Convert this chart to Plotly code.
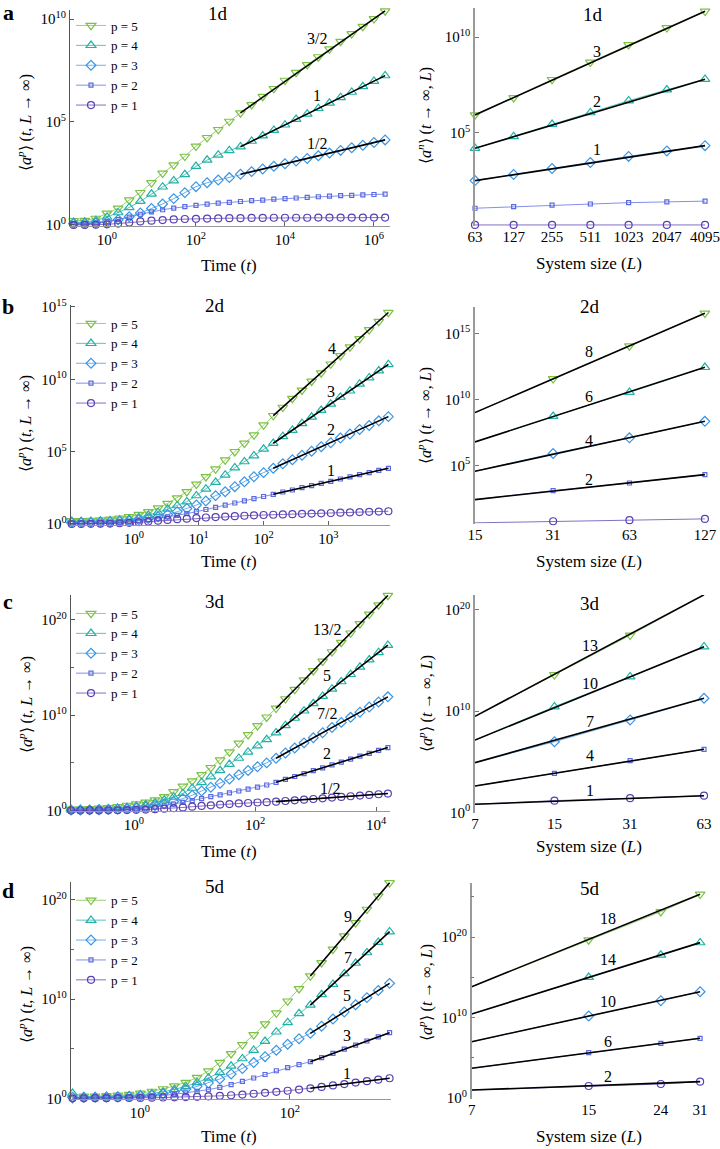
import plotly.graph_objects as go

W, H = 720, 1149
SERIF = "Liberation Serif, Times New Roman, serif"

# ------------------------------------------------------------------ data
# time grids (left panels)
T_1D = [0.178, 0.316, 0.562, 1.0, 1.78, 3.16, 5.62, 10, 17.8, 31.6, 56.2, 100, 178, 316, 562,
        1000, 1780, 3160, 5620, 1.0e4, 1.78e4, 3.16e4, 5.62e4, 1.0e5, 1.78e5, 3.16e5, 5.62e5,
        1.0e6, 1.78e6]
T_2D = [0.110, 0.154, 0.217, 0.305, 0.429, 0.603, 0.847, 1.19, 1.67, 2.36, 3.31, 4.66, 6.55, 9.20,
        12.9, 18.2, 25.6, 36.0, 50.6, 71.1, 100, 141, 198, 278, 391, 550, 773, 1086, 1528, 2148,
        3020, 4246, 5970, 8395]
T_3D = [0.0912, 0.130, 0.185, 0.264, 0.377, 0.537, 0.766, 1.09, 1.56, 2.22, 3.16, 4.51, 6.43, 9.16,
        13.1, 18.6, 26.5, 37.8, 54.0, 76.9, 110, 156, 223, 318, 453, 646, 920, 1312, 1871, 2667,
        3802, 5420, 7727, 11015, 15703]
T_5D = [0.126, 0.178, 0.252, 0.357, 0.506, 0.716, 1.01, 1.44, 2.03, 2.88, 4.07, 5.77, 8.17, 11.6,
        16.4, 23.2, 32.8, 46.5, 65.8, 93.1, 132, 187, 264, 374, 530, 750, 1062, 1503, 2128]

# log10 <a^p>(t, L->inf)
LT1_P5 = [0.21, 0.22, 0.32, 0.57, 0.81, 1.21, 1.57, 2.05, 2.51, 2.91, 3.33, 3.82, 4.24, 4.63, 5.03,
          5.44, 5.84, 6.24, 6.62, 7.02, 7.40, 7.78, 8.16, 8.54, 8.91, 9.28, 9.64, 10.01, 10.39]
LT1_P4 = [0.13, 0.14, 0.22, 0.38, 0.60, 0.85, 1.15, 1.50, 1.85, 2.15, 2.45, 2.85, 3.15, 3.40, 3.62,
          3.80, 4.07, 4.33, 4.60, 4.86, 5.13, 5.39, 5.66, 5.92, 6.19, 6.45, 6.72, 6.98, 7.25]
LT1_P3 = [0.08, 0.08, 0.10, 0.16, 0.25, 0.40, 0.58, 0.80, 1.02, 1.28, 1.57, 1.86, 2.05, 2.18, 2.30,
          2.46, 2.59, 2.72, 2.85, 2.97, 3.10, 3.23, 3.36, 3.49, 3.62, 3.75, 3.87, 4.00, 4.13]
LT1_P2 = [0.03, 0.05, 0.09, 0.16, 0.26, 0.38, 0.52, 0.64, 0.74, 0.82, 0.89, 0.95, 1.01, 1.06, 1.10,
          1.14, 1.18, 1.21, 1.25, 1.28, 1.31, 1.34, 1.37, 1.40, 1.42, 1.44, 1.46, 1.48, 1.50]
LT1_P1 = [0.00, 0.00, 0.01, 0.03, 0.07, 0.12, 0.17, 0.21, 0.24, 0.27, 0.29, 0.30, 0.31, 0.32, 0.33,
          0.33, 0.34, 0.34, 0.35, 0.35, 0.35, 0.35, 0.36, 0.36, 0.36, 0.36, 0.36, 0.36, 0.36]

LT2_P5 = [0.22, 0.23, 0.25, 0.28, 0.33, 0.40, 0.50, 0.65, 0.85, 1.10, 1.42, 1.80, 2.23, 2.74, 3.27,
          3.80, 4.42, 5.00, 5.58, 6.15, 6.84, 7.49, 8.06, 8.68, 9.25, 9.87, 10.44, 11.05, 11.63,
          12.24, 12.81, 13.42, 14.00, 14.62]
LT2_P4 = [0.17, 0.17, 0.18, 0.20, 0.23, 0.28, 0.35, 0.45, 0.60, 0.80, 1.03, 1.27, 1.54, 1.96, 2.42,
          2.88, 3.39, 3.89, 4.31, 4.72, 5.18, 5.58, 6.05, 6.48, 6.95, 7.39, 7.86, 8.30, 8.77, 9.20,
          9.68, 10.11, 10.59, 11.03]
LT2_P3 = [0.12, 0.12, 0.13, 0.14, 0.16, 0.19, 0.23, 0.29, 0.38, 0.50, 0.65, 0.85, 1.07, 1.31, 1.59,
          1.96, 2.23, 2.58, 2.92, 3.27, 3.55, 3.85, 4.16, 4.44, 4.75, 5.03, 5.34, 5.62, 5.94, 6.22,
          6.53, 6.81, 7.13, 7.42]
LT2_P2 = [0.04, 0.04, 0.05, 0.06, 0.08, 0.11, 0.16, 0.22, 0.30, 0.39, 0.49, 0.60, 0.72, 0.85, 1.00,
          1.15, 1.30, 1.45, 1.60, 1.75, 1.90, 2.05, 2.21, 2.35, 2.51, 2.65, 2.81, 2.95, 3.11, 3.25,
          3.41, 3.55, 3.71, 3.85]
LT2_P1 = [0.00, 0.00, 0.01, 0.02, 0.03, 0.05, 0.08, 0.12, 0.17, 0.23, 0.28, 0.33, 0.37, 0.41, 0.45,
          0.48, 0.51, 0.54, 0.57, 0.60, 0.62, 0.64, 0.66, 0.68, 0.70, 0.72, 0.74, 0.76, 0.78, 0.80,
          0.82, 0.84, 0.86, 0.88]

LT3_P5 = [0.13, 0.17, 0.20, 0.23, 0.30, 0.40, 0.54, 0.68, 0.86, 1.10, 1.45, 1.97, 2.55, 3.10, 3.75,
          4.50, 5.30, 6.15, 7.05, 7.95, 8.90, 9.80, 10.73, 11.72, 12.70, 13.69, 14.68, 15.66, 16.65,
          17.64, 18.62, 19.61, 20.60, 21.58, 22.57]
LT3_P4 = [0.08, 0.10, 0.12, 0.15, 0.19, 0.25, 0.33, 0.44, 0.60, 0.82, 1.10, 1.42, 1.80, 2.35, 2.95,
          3.55, 4.20, 4.85, 5.50, 6.15, 6.80, 7.45, 8.17, 8.93, 9.70, 10.46, 11.23, 12.00, 12.76,
          13.53, 14.29, 15.06, 15.82, 16.59, 17.35]
LT3_P3 = [0.05, 0.06, 0.07, 0.09, 0.12, 0.16, 0.21, 0.28, 0.38, 0.52, 0.70, 0.95, 1.25, 1.60, 2.05,
          2.45, 2.87, 3.30, 3.75, 4.20, 4.60, 5.00, 5.49, 6.03, 6.56, 7.10, 7.64, 8.17, 8.71, 9.25,
          9.78, 10.32, 10.86, 11.39, 11.93]
LT3_P2 = [0.03, 0.03, 0.04, 0.05, 0.07, 0.09, 0.13, 0.18, 0.26, 0.36, 0.50, 0.66, 0.85, 1.05, 1.25,
          1.45, 1.65, 1.85, 2.05, 2.25, 2.45, 2.68, 2.96, 3.26, 3.57, 3.87, 4.18, 4.48, 4.79, 5.09,
          5.40, 5.70, 6.00, 6.31, 6.61]
LT3_P1 = [0.00, 0.00, 0.01, 0.01, 0.02, 0.03, 0.05, 0.07, 0.10, 0.14, 0.19, 0.25, 0.32, 0.40, 0.48,
          0.55, 0.62, 0.68, 0.74, 0.79, 0.84, 0.88, 0.93, 1.00, 1.07, 1.14, 1.21, 1.28, 1.36, 1.43,
          1.50, 1.57, 1.64, 1.71, 1.78]

LT5_P5 = [-0.05, 0.20, 0.22, 0.25, 0.30, 0.38, 0.50, 0.70, 0.95, 1.25, 1.60, 2.10, 2.75, 3.60, 4.50,
          5.40, 6.40, 7.50, 8.60, 9.80, 11.05, 12.33, 13.67, 15.02, 16.36, 17.70, 19.05, 20.39, 21.73]
LT5_P4 = [0.50, 0.15, 0.17, 0.19, 0.22, 0.27, 0.35, 0.47, 0.65, 0.90, 1.20, 1.60, 2.05, 2.60, 3.25,
          4.00, 4.85, 5.75, 6.70, 7.65, 8.55, 9.40, 10.46, 11.51, 12.57, 13.63, 14.69, 15.74, 16.80]
LT5_P3 = [0.10, 0.10, 0.11, 0.13, 0.15, 0.19, 0.25, 0.33, 0.45, 0.65, 0.90, 1.20, 1.55, 1.95, 2.45,
          3.00, 3.60, 4.20, 4.85, 5.45, 6.00, 6.55, 7.27, 7.99, 8.71, 9.43, 10.15, 10.87, 11.59]
LT5_P2 = [0.03, 0.04, 0.05, 0.06, 0.08, 0.10, 0.14, 0.20, 0.28, 0.40, 0.55, 0.70, 0.88, 1.10, 1.38,
          1.70, 2.05, 2.40, 2.78, 3.10, 3.40, 3.69, 4.11, 4.53, 4.95, 5.37, 5.78, 6.20, 6.62]
LT5_P1 = [0.00, 0.00, 0.01, 0.01, 0.02, 0.03, 0.04, 0.06, 0.08, 0.10, 0.12, 0.15, 0.20, 0.25, 0.31,
          0.38, 0.46, 0.55, 0.65, 0.76, 0.88, 1.01, 1.15, 1.30, 1.44, 1.59, 1.73, 1.88, 2.02]

# system sizes (right panels) and log10 <a^p>(t->inf, L)
L_1D = [63, 127, 255, 511, 1023, 2047, 4095]
L_2D = [15, 31, 63, 127]
L_3D = [7, 15, 31, 63]
L_5D = [7, 15, 24, 31]
LL1_P5 = [5.94, 6.84, 7.78, 8.68, 9.60, 10.48, 11.34]
LL1_P4 = [4.20, 4.82, 5.45, 6.06, 6.68, 7.25, 7.80]
LL1_P3 = [2.52, 2.84, 3.15, 3.46, 3.78, 4.06, 4.34]
LL1_P2 = [1.08, 1.16, 1.24, 1.30, 1.37, 1.41, 1.45]
LL1_P1 = [0.21, 0.21, 0.21, 0.21, 0.21, 0.21, 0.21]
LL2_P5 = [8.99, 11.55, 14.04, 16.52]
LL2_P4 = [6.77, 8.71, 10.53, 12.42]
LL2_P3 = [4.55, 5.89, 7.08, 8.33]
LL2_P2 = [2.40, 3.08, 3.66, 4.29]
LL2_P1 = [0.64, 0.76, 0.84, 0.94]
LL3_P5 = [9.50, 13.60, 17.50, 21.50]
LL3_P4 = [7.16, 10.45, 13.41, 16.37]
LL3_P3 = [4.92, 6.99, 9.14, 11.28]
LL3_P2 = [2.62, 3.87, 5.12, 6.24]
LL3_P1 = [0.81, 1.17, 1.41, 1.66]
LL5_P5 = [13.83, 19.63, 23.14, 25.30]
LL5_P4 = [10.43, 14.99, 17.76, 19.30]
LL5_P3 = [7.00, 10.19, 12.09, 13.20]
LL5_P2 = [3.69, 5.63, 6.79, 7.42]
LL5_P1 = [0.99, 1.49, 1.74, 2.03]

# exponent labels of the fitted power laws (None = no fit drawn)
EXP_T1 = {5: "3/2", 4: "1", 3: "1/2", 2: None, 1: None}
EXP_T2 = {5: "4", 4: "3", 3: "2", 2: "1", 1: None}
EXP_T3 = {5: "13/2", 4: "5", 3: "7/2", 2: "2", 1: "1/2"}
EXP_T5 = {5: "9", 4: "7", 3: "5", 2: "3", 1: "1"}
EXP_L1 = {5: "3", 4: "2", 3: "1", 2: None, 1: None}
EXP_L2 = {5: "8", 4: "6", 3: "4", 2: "2", 1: None}
EXP_L3 = {5: "13", 4: "10", 3: "7", 2: "4", 1: "1"}
EXP_L5 = {5: "18", 4: "14", 3: "10", 2: "6", 1: "2"}
FIT_START_T = [15, 21, 22, 21]   # index where the late-time fit begins

# ------------------------------------------------------------------ style
COLORS = {5: "#7cc145", 4: "#22b2a5", 3: "#3b95e4", 2: "#5a6ae2", 1: "#5940b2"}
LINECOL = {5: "rgba(124,193,69,0.75)", 4: "rgba(34,178,165,0.75)", 3: "rgba(59,149,228,0.75)",
           2: "rgba(90,106,226,0.75)", 1: "rgba(89,64,178,0.75)"}
SYMB = {5: "triangle-down-open", 4: "triangle-up-open", 3: "diamond-open", 2: "square-open",
        1: "circle-open"}
MSIZE = {5: 8.5, 4: 8.5, 3: 7.5, 2: 4, 1: 7}


def px_x(p):
    return p / W


def px_y(p):
    return 1 - p / H


def sup(e):
    return "10<sup>%d</sup>" % e


def pw(e):
    return 10.0 ** e


def note(x, y, text, size, **kw):
    d = dict(x=px_x(x), y=px_y(y), xref="paper", yref="paper", text=text, showarrow=False,
             xanchor="center", yanchor="middle", font=dict(size=size, family=SERIF, color="black"))
    d.update(kw)
    return d


fig = go.Figure()
annotations = []
layout = dict(width=W, height=H, margin=dict(l=0, r=0, t=0, b=0, autoexpand=False), autosize=False,
              plot_bgcolor="white", paper_bgcolor="white",
              font=dict(family=SERIF, size=15, color="black"), showlegend=True)

left_sets = [
    (T_1D, [LT1_P5, LT1_P4, LT1_P3, LT1_P2, LT1_P1], EXP_T1),
    (T_2D, [LT2_P5, LT2_P4, LT2_P3, LT2_P2, LT2_P1], EXP_T2),
    (T_3D, [LT3_P5, LT3_P4, LT3_P3, LT3_P2, LT3_P1], EXP_T3),
    (T_5D, [LT5_P5, LT5_P4, LT5_P3, LT5_P2, LT5_P1], EXP_T5),
]
right_sets = [
    (L_1D, [LL1_P5, LL1_P4, LL1_P3, LL1_P2, LL1_P1], EXP_L1),
    (L_2D, [LL2_P5, LL2_P4, LL2_P3, LL2_P2, LL2_P1], EXP_L2),
    (L_3D, [LL3_P5, LL3_P4, LL3_P3, LL3_P2, LL3_P1], EXP_L3),
    (L_5D, [LL5_P5, LL5_P4, LL5_P3, LL5_P2, LL5_P1], EXP_L5),
]

# geometry (pixels) for each row: left and right panel
LEFT_GEOM = [
    dict(xd=(70, 390), xr=(-0.831, 6.36), yd=(9.73, 226.0), yr=(-0.05, 10.45),
         xt=[0, 2, 4, 6], yt=[0, 5, 10], ym=[]),
    dict(xd=(70.7, 390), xr=(-0.974, 3.949), yd=(305.1, 525.0), yr=(-0.07, 15.13),
         xt=[0, 1, 2, 3], yt=[0, 5, 10, 15], ym=[]),
    dict(xd=(70.7, 390), xr=(-1.046, 4.231), yd=(595.0, 811.0), yr=(-0.05, 22.62),
         xt=[0, 2, 4], yt=[0, 10, 20], ym=[5, 15]),
    dict(xd=(70.7, 391), xr=(-0.924, 3.347), yd=(881.6, 1099.3), yr=(-0.1, 21.85),
         xt=[0, 2], yt=[0, 10, 20], ym=[5, 15]),
]
RIGHT_GEOM = [
    dict(xd=(475, 712), xr=(1.7993, 3.667), yd=(8.2, 225.9), yr=(0.16, 11.5), yt=[5, 10], ym=[]),
    dict(xd=(475, 712), xr=(1.1761, 2.1325), yd=(306.9, 523.5), yr=(0.59, 17.0), yt=[5, 10, 15], ym=[]),
    dict(xd=(475, 712), xr=(0.8451, 1.8326), yd=(595.0, 813.0), yr=(-0.05, 21.48), yt=[0, 10, 20], ym=[]),
    dict(xd=(471.7, 712), xr=(0.8451, 1.525), yd=(883.3, 1098.5), yr=(-0.06, 26.67), yt=[0, 10, 20],
         ym=[5, 15, 25]),
]
TITLES = ["1d", "2d", "3d", "5d"]
LEFT_TITLE_POS = [(218, 14), (215, 305), (215, 601.7), (215, 886.7)]
RIGHT_TITLE_POS = [(593, 15), (590, 306.7), (590, 603.3), (590, 888.3)]
LEFT_LABEL_POS = [
    [(316.7, 38.3), (316.7, 95), (316.7, 143.3), None, None],
    [(331.7, 348.3), (330.7, 391), (330.7, 430), (330.7, 471), None],
    [(326.7, 629.3), (326.7, 675), (326.7, 713.3), (326.7, 753.3), (330, 788.3)],
    [(348.3, 916.7), (348.3, 957.3), (346.7, 995), (346.7, 1035), (346.7, 1073.3)],
]
RIGHT_LABEL_POS = [
    [(597, 51), (597, 101), (597, 149), None, None],
    [(589.3, 351), (589.3, 396.7), (589.3, 440), (589.3, 479.3), None],
    [(590, 645), (590, 683.3), (590, 721.7), (590, 755), (590, 790)],
    [(608.3, 918.3), (608.3, 959.3), (608.3, 1001.7), (608.3, 1041.7), (608.3, 1076.7)],
]
XTITLE_Y = [265, 561.7, 851.7, 1136.7]
XTITLE_R_Y = [263.3, 561.7, 846.7, 1136.7]
YTITLE_L_Y = [123, 424, 705, 995]
YTITLE_R_Y = [116, 416, 704, 993]
LETTERS = [("a", 8, 12), ("b", 8, 306), ("c", 8, 601), ("d", 8, 890)]
LEGEND_TOP = [10.5, 308.5, 598.5, 885.3]

PS = [5, 4, 3, 2, 1]

for row in range(4):
    li = 2 * row + 1
    ri = 2 * row + 2
    lg = LEFT_GEOM[row]
    rg = RIGHT_GEOM[row]
    legname = "legend" if row == 0 else "legend%d" % (row + 1)
    lx, ly = ("x" if li == 1 else "x%d" % li), ("y" if li == 1 else "y%d" % li)
    rx, ry = "x%d" % ri, "y%d" % ri

    # ---------- left panel: time evolution
    T, series, exps = left_sets[row]
    for p, lv in zip(PS, series):
        fig.add_trace(go.Scatter(
            x=T, y=[pw(v) for v in lv], mode="lines+markers", name="p = %d" % p,
            xaxis=lx, yaxis=ly, legend=legname, cliponaxis=False,
            line=dict(color=LINECOL[p], width=1),
            marker=dict(symbol=SYMB[p], size=MSIZE[p], color=COLORS[p],
                        line=dict(width=1.2, color=COLORS[p]))))
    s0 = FIT_START_T[row]
    for j, (p, lv) in enumerate(zip(PS, series)):
        if exps[p] is None:
            continue
        fig.add_trace(go.Scatter(
            x=[T[s0], T[-1]], y=[pw(lv[s0]), pw(lv[-1])], mode="lines", showlegend=False,
            xaxis=lx, yaxis=ly, line=dict(color="black", width=1.6), hoverinfo="skip"))
        pos = LEFT_LABEL_POS[row][j]
        annotations.append(note(pos[0], pos[1], exps[p], 16))

    # ---------- right panel: system size
    Ls, rseries, rexps = right_sets[row]
    for j, (p, lv) in enumerate(zip(PS, rseries)):
        fig.add_trace(go.Scatter(
            x=Ls, y=[pw(v) for v in lv], mode="lines+markers", showlegend=False,
            xaxis=rx, yaxis=ry, cliponaxis=False,
            line=dict(color=LINECOL[p], width=1),
            marker=dict(symbol=SYMB[p], size=MSIZE[p], color=COLORS[p],
                        line=dict(width=1.2, color=COLORS[p]))))
    for j, (p, lv) in enumerate(zip(PS, rseries)):
        if rexps[p] is None:
            continue
        fig.add_trace(go.Scatter(
            x=[Ls[0], Ls[-1]], y=[pw(lv[0]), pw(lv[-1])], mode="lines", showlegend=False,
            xaxis=rx, yaxis=ry, line=dict(color="black", width=1.6), hoverinfo="skip"))
        pos = RIGHT_LABEL_POS[row][j]
        annotations.append(note(pos[0], pos[1], rexps[p], 16))

    tickfont = dict(family=SERIF, size=15, color="black")
    # left axes
    layout["xaxis" if li == 1 else "xaxis%d" % li] = dict(
        type="log", domain=[px_x(lg["xd"][0]), px_x(lg["xd"][1])], range=list(lg["xr"]),
        anchor=ly, showline=True, linecolor="#999999", linewidth=1, ticks="inside", ticklen=4,
        tickcolor="#666666", showgrid=False, zeroline=False, automargin=False,
        ticklabeloverflow="allow",
        tickvals=[pw(e) for e in lg["xt"]], ticktext=[sup(e) for e in lg["xt"]], tickfont=tickfont)
    yl = dict(
        type="log", domain=[px_y(lg["yd"][1]), px_y(lg["yd"][0])], range=list(lg["yr"]),
        anchor=lx, showline=True, linecolor="#555555", linewidth=1, ticks="inside", ticklen=4,
        tickcolor="#555555", showgrid=False, zeroline=False, automargin=False,
        ticklabeloverflow="allow",
        tickvals=[pw(e) for e in lg["yt"]], ticktext=[sup(e) for e in lg["yt"]], tickfont=tickfont)
    if lg["ym"]:
        yl["minor"] = dict(tickvals=[pw(e) for e in lg["ym"]], ticks="inside", ticklen=3,
                           tickcolor="#666666", showgrid=False)
    layout["yaxis" if li == 1 else "yaxis%d" % li] = yl

    # right axes
    layout["xaxis%d" % ri] = dict(
        type="log", domain=[px_x(rg["xd"][0]), px_x(rg["xd"][1])], range=list(rg["xr"]),
        anchor=ry, showline=False, ticks="", showgrid=False, zeroline=False, automargin=False,
        ticklabeloverflow="allow",
        tickvals=Ls, ticktext=[str(v) for v in Ls], tickfont=tickfont)
    yr = dict(
        type="log", domain=[px_y(rg["yd"][1]), px_y(rg["yd"][0])], range=list(rg["yr"]),
        anchor=rx, showline=True, linecolor="#9a9a9a", linewidth=1.5, ticks="inside", ticklen=4,
        tickcolor="#777777", showgrid=False, zeroline=False, automargin=False,
        ticklabeloverflow="allow",
        tickvals=[pw(e) for e in rg["yt"]], ticktext=[sup(e) for e in rg["yt"]], tickfont=tickfont)
    if rg["ym"]:
        yr["minor"] = dict(tickvals=[pw(e) for e in rg["ym"]], ticks="inside", ticklen=3,
                           tickcolor="#777777", showgrid=False)
    layout["yaxis%d" % ri] = yr

    # legend
    layout[legname] = dict(x=px_x(71), y=px_y(LEGEND_TOP[row]), xanchor="left", yanchor="top",
                           bgcolor="rgba(0,0,0,0)", font=dict(family=SERIF, size=13),
                           itemwidth=30, tracegroupgap=0, traceorder="normal")

    # titles
    for (tx, ty) in (LEFT_TITLE_POS[row], RIGHT_TITLE_POS[row]):
        annotations.append(note(tx, ty, TITLES[row], 19))
    annotations.append(note(229, XTITLE_Y[row], "Time (<i>t</i>)", 17))
    annotations.append(note(589, XTITLE_R_Y[row], "System size (<i>L</i>)", 17))
    annotations.append(note(25, YTITLE_L_Y[row],
                            "⟨<i>a<sup>p</sup></i>⟩ (<i>t</i>, <i>L</i> → ∞)", 16, textangle=-90))
    rsym = "n" if row == 0 else "p"
    annotations.append(note(425, YTITLE_R_Y[row],
                            "⟨<i>a<sup>%s</sup></i>⟩ (<i>t</i> → ∞, <i>L</i>)" % rsym, 16,
                            textangle=-90))

for (lt, lxp, lyp) in LETTERS:
    annotations.append(note(lxp, lyp, "<b>%s</b>" % lt, 22))

layout["annotations"] = annotations
fig.update_layout(**layout)
fig.write_html("out.html", config={"displayModeBar": False},
               post_script="document.body.style.margin='0px';")
